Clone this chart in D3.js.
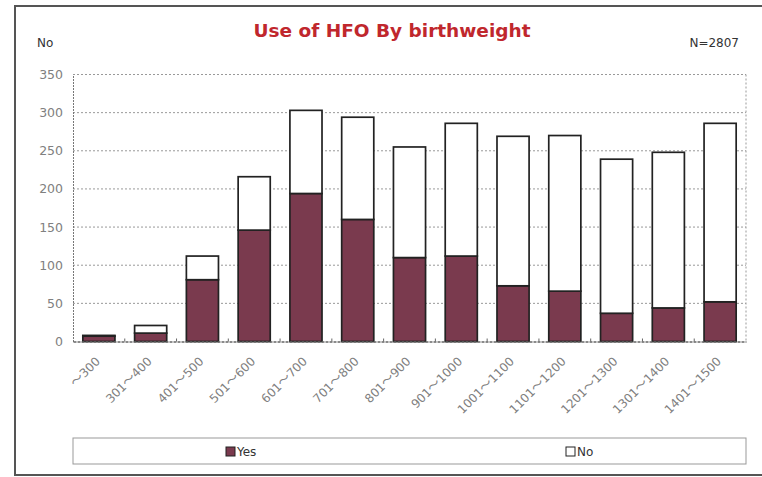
<!DOCTYPE html>
<html>
<head>
<meta charset="utf-8">
<script src="https://cdn.jsdelivr.net/npm/d3@7"></script>
<style>
  body { margin: 0; background: #fff; }
  text { font-family: "DejaVu Sans", Verdana, sans-serif; }
</style>
</head>
<body>
<div id="chart-area"></div>
<script>

// data
let categories = ["～300", "301～400", "401～500", "501～600", "601～700", "701～800", "801～900",
    "901～1000", "1001～1100", "1101～1200", "1201～1300", "1301～1400", "1401～1500"];
let yesValues = [7, 11, 81, 146, 194, 160, 110, 112, 73, 66, 37, 44, 52];
let noValues = [1, 10, 31, 70, 109, 134, 145, 174, 196, 204, 202, 204, 234];
let yTicks = [0, 50, 100, 150, 200, 250, 300, 350];
let seriesNames = ["Yes", "No"];

let W = 762, H = 477;

let svg = d3.select("#chart-area").append("svg")
    .attr("width", W)
    .attr("height", H);

// outer frame
svg.append("rect")
    .attr("x", 15).attr("y", 6)
    .attr("width", 780).attr("height", 469)
    .attr("fill", "none")
    .attr("stroke", "#555")
    .attr("stroke-width", 2);

let plot = {left: 73, right: 746, top: 74.5, bottom: 341.5};

let x = d3.scaleBand()
    .domain(categories)
    .range([plot.left, plot.right])
    .paddingInner(0.38)
    .paddingOuter(0.19);

let y = d3.scaleLinear()
    .domain([0, 350])
    .range([plot.bottom, plot.top]);

// gridlines
svg.append("g")
    .selectAll("line")
    .data(yTicks.filter(d => d > 0))
    .enter().append("line")
    .attr("x1", plot.left).attr("x2", plot.right)
    .attr("y1", d => y(d)).attr("y2", d => y(d))
    .attr("stroke", "#999")
    .attr("stroke-width", 1)
    .attr("stroke-dasharray", "2,2");

// right frame of plot
svg.append("line")
    .attr("x1", plot.right).attr("x2", plot.right)
    .attr("y1", plot.top).attr("y2", plot.bottom)
    .attr("stroke", "#999")
    .attr("stroke-dasharray", "2,2");

// y axis
let yAxis = d3.axisLeft(y)
    .tickValues(yTicks)
    .tickSize(0)
    .tickPadding(10);

let yAxisGroup = svg.append("g")
    .attr("class", "axis y-axis")
    .attr("transform", "translate(" + plot.left + ",0)")
    .call(yAxis);

yAxisGroup.select(".domain")
    .attr("stroke", "#777")
    .attr("stroke-dasharray", "2,1");
yAxisGroup.selectAll("text")
    .attr("fill", "#808080")
    .style("font-size", "12.5px");

// stacked bars
let stackData = categories.map((c, i) => ({cat: c, Yes: yesValues[i], No: noValues[i]}));
let stacked = d3.stack().keys(seriesNames)(stackData);
let colors = {Yes: "#7a3a4e", No: "#ffffff"};

svg.append("g")
    .selectAll("g")
    .data(stacked)
    .enter().append("g")
    .attr("fill", d => colors[d.key])
    .selectAll("rect")
    .data(d => d)
    .enter().append("rect")
    .attr("x", d => x(d.data.cat))
    .attr("y", d => y(d[1]))
    .attr("width", x.bandwidth())
    .attr("height", d => y(d[0]) - y(d[1]))
    .attr("stroke", "#222")
    .attr("stroke-width", 1.7);

// x axis
let xAxis = d3.axisBottom(x)
    .tickSize(0)
    .tickPadding(8);

let xAxisGroup = svg.append("g")
    .attr("class", "axis x-axis")
    .attr("transform", "translate(0," + plot.bottom + ")")
    .call(xAxis);

xAxisGroup.select(".domain")
    .attr("stroke", "#666")
    .attr("stroke-width", 1.5)
    .attr("stroke-dasharray", "3,1");

// split labels so the wide tilde can use a CJK font
xAxisGroup.selectAll("text")
    .text(null)
    .attr("fill", "#808080")
    .style("font-size", "12px")
    .attr("text-anchor", "end")
    .attr("dx", "-0.1em")
    .attr("dy", "0.6em")
    .attr("transform", "translate(-8,9) rotate(-45)")
    .each(function(d) {
        let parts = d.split("～");
        let t = d3.select(this);
        t.append("tspan").text(parts[0]);
        t.append("tspan")
            .style("font-family", "'Noto Sans CJK JP', sans-serif")
            .style("font-size", "13px")
            .text("～");
        t.append("tspan").text(parts[1]);
    });

// small ticks at band boundaries
let step = x.step();
svg.append("g")
    .selectAll("line")
    .data(categories.slice(1))
    .enter().append("line")
    .attr("x1", d => x(d) - (step - x.bandwidth()) / 2)
    .attr("x2", d => x(d) - (step - x.bandwidth()) / 2)
    .attr("y1", plot.bottom)
    .attr("y2", plot.bottom - 3)
    .attr("stroke", "#666");

// titles
svg.append("text")
    .attr("x", 392).attr("y", 37)
    .attr("text-anchor", "middle")
    .attr("fill", "#c0272d")
    .style("font-weight", "bold")
    .style("font-size", "18.5px")
    .text("Use of HFO By birthweight");

svg.append("text")
    .attr("x", 37).attr("y", 47)
    .attr("fill", "#333")
    .style("font-size", "12px")
    .text("No");

svg.append("text")
    .attr("x", 739).attr("y", 47)
    .attr("text-anchor", "end")
    .attr("fill", "#333")
    .style("font-size", "12px")
    .text("N=2807");

// legend
svg.append("rect")
    .attr("x", 73).attr("y", 438)
    .attr("width", 673).attr("height", 26)
    .attr("fill", "#fff")
    .attr("stroke", "#999");

let legendX = [226, 566];
let legend = svg.append("g")
    .selectAll("g")
    .data(seriesNames)
    .enter().append("g")
    .attr("transform", (d, i) => "translate(" + legendX[i] + ",447)");

legend.append("rect")
    .attr("width", 9).attr("height", 9)
    .attr("fill", d => colors[d])
    .attr("stroke", "#222");

legend.append("text")
    .attr("x", 11).attr("y", 9)
    .attr("fill", "#333")
    .style("font-size", "12px")
    .text(d => d);

</script>
</body>
</html>
